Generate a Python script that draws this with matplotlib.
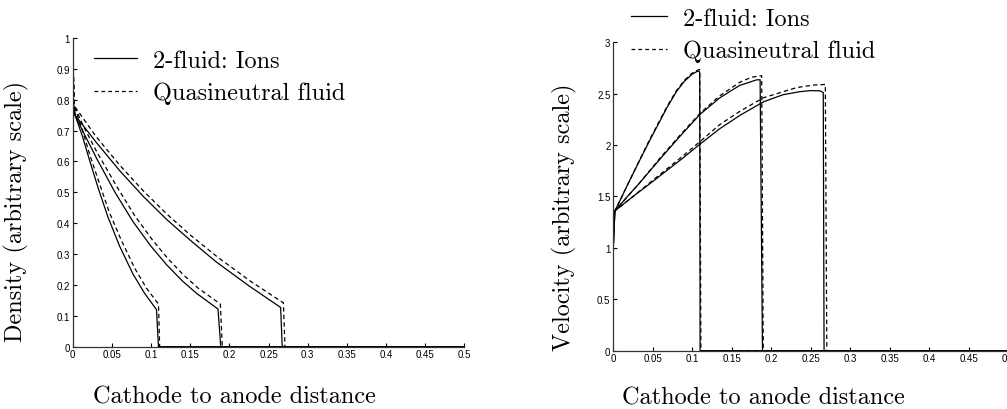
import matplotlib
matplotlib.use("Agg")
import matplotlib.pyplot as plt
from matplotlib.ticker import FuncFormatter, MultipleLocator

# ----------------------------------------------------------------------
#   Data
# ----------------------------------------------------------------------

# density, 2-fluid ions (solid) and quasineutral fluid (dashed)
dens_ion_x = [
    [0, 0.003, 0.012, 0.022, 0.033, 0.045, 0.060, 0.077, 0.092, 0.107, 0.1095, 0.5],
    [0, 0.003, 0.0135, 0.0305, 0.054, 0.077, 0.100, 0.120, 0.140, 0.158, 0.1855, 0.189, 0.5],
    [0, 0.003, 0.030, 0.060, 0.090, 0.120, 0.150, 0.183, 0.225, 0.2655, 0.2675, 0.5],
]
dens_ion_y = [
    [0.80, 0.75, 0.685, 0.60, 0.51, 0.42, 0.325, 0.235, 0.172, 0.120, 0.0, 0.0],
    [0.80, 0.75, 0.695, 0.61, 0.50, 0.405, 0.325, 0.265, 0.213, 0.173, 0.122, 0.0, 0.0],
    [0.80, 0.75, 0.662, 0.57, 0.487, 0.412, 0.345, 0.275, 0.197, 0.127, 0.0, 0.0],
]
dens_qn_x = [
    [0, 0.002, 0.012, 0.022, 0.034, 0.046, 0.062, 0.079, 0.094, 0.1095, 0.111, 0.5],
    [0, 0.002, 0.0135, 0.031, 0.056, 0.079, 0.102, 0.122, 0.142, 0.160, 0.1885, 0.191, 0.5],
    [0, 0.002, 0.030, 0.060, 0.090, 0.120, 0.150, 0.185, 0.227, 0.269, 0.271, 0.5],
]
dens_qn_y = [
    [0.97, 0.78, 0.705, 0.62, 0.53, 0.44, 0.345, 0.255, 0.19, 0.138, 0.0, 0.0],
    [0.97, 0.78, 0.715, 0.63, 0.52, 0.425, 0.345, 0.284, 0.231, 0.19, 0.138, 0.0, 0.0],
    [0.97, 0.78, 0.68, 0.588, 0.505, 0.43, 0.362, 0.29, 0.212, 0.142, 0.0, 0.0],
]

# velocity, 2-fluid ions (solid) and quasineutral fluid (dashed)
vel_ion_x = [
    [0, 0.002, 0.011, 0.0185, 0.034, 0.0465, 0.0677, 0.080, 0.090, 0.100, 0.1057, 0.1077, 0.1095, 0.110, 0.5],
    [0, 0.002, 0.018, 0.032, 0.061, 0.085, 0.110, 0.135, 0.160, 0.1817, 0.186, 0.189, 0.5],
    [0, 0.002, 0.025, 0.0456, 0.0867, 0.110, 0.135, 0.1606, 0.190, 0.215, 0.2366, 0.250, 0.262, 0.266, 0.267, 0.5],
]
vel_ion_y = [
    [1.0, 1.36, 1.50, 1.62, 1.86, 2.05, 2.36, 2.52, 2.62, 2.69, 2.715, 2.72, 2.71, 0.0, 0.0],
    [1.0, 1.36, 1.50, 1.62, 1.88, 2.09, 2.30, 2.46, 2.58, 2.635, 2.635, 0.0, 0.0],
    [1.0, 1.36, 1.50, 1.62, 1.865, 2.01, 2.16, 2.29, 2.42, 2.49, 2.52, 2.53, 2.528, 2.51, 0.0, 0.0],
]
vel_qn_x = [
    [0, 0.002, 0.011, 0.0185, 0.034, 0.0465, 0.0677, 0.080, 0.090, 0.100, 0.1057, 0.1095, 0.111, 0.5],
    [0, 0.002, 0.018, 0.032, 0.061, 0.085, 0.110, 0.135, 0.160, 0.175, 0.188, 0.190, 0.5],
    [0, 0.002, 0.025, 0.0456, 0.0867, 0.110, 0.135, 0.1606, 0.190, 0.2325, 0.255, 0.2686, 0.2705, 0.5],
]
vel_qn_y = [
    [1.2, 1.36, 1.50, 1.62, 1.865, 2.06, 2.37, 2.53, 2.63, 2.70, 2.725, 2.735, 0.0, 0.0],
    [1.2, 1.36, 1.50, 1.62, 1.89, 2.10, 2.31, 2.48, 2.61, 2.66, 2.675, 0.0, 0.0],
    [1.2, 1.36, 1.50, 1.63, 1.885, 2.035, 2.20, 2.33, 2.46, 2.56, 2.585, 2.59, 0.0, 0.0],
]

legend_labels = ['2-fluid: Ions', 'Quasineutral fluid']
x_label = 'Cathode to anode distance'
y_labels = ['Density (arbitrary scale)', 'Velocity (arbitrary scale)']

# ----------------------------------------------------------------------
#   Plot
# ----------------------------------------------------------------------

label_font = 'cmr10'
tick_font = 'Liberation Sans'
label_size = 17.5
dash_style = (3.5, 2.5)


def style_axes(ax, ymax, ystep):
    ax.set_xlim(0, 0.5)
    ax.set_ylim(0, ymax)
    ax.xaxis.set_major_locator(MultipleLocator(0.05))
    ax.yaxis.set_major_locator(MultipleLocator(ystep))
    fmt = FuncFormatter(lambda v, p: '%g' % round(v, 3))
    ax.xaxis.set_major_formatter(fmt)
    ax.yaxis.set_major_formatter(fmt)
    ax.spines['top'].set_visible(False)
    ax.spines['right'].set_visible(False)
    for s in ['left', 'bottom']:
        ax.spines[s].set_linewidth(0.9)
        ax.spines[s].set_color('#333333')
    ax.tick_params(direction='in', length=3, width=0.8, pad=2, labelsize=7)
    for lab in ax.get_xticklabels() + ax.get_yticklabels():
        lab.set_fontfamily(tick_font)


fig = plt.figure(figsize=(10.07, 4.1), dpi=100)

# density panel
ax1 = fig.add_axes([0.0722, 0.152, 0.3889, 0.753])
for xs, ys in zip(dens_ion_x, dens_ion_y):
    ax1.plot(xs, ys, '-', color='black', lw=0.9)
for xs, ys in zip(dens_qn_x, dens_qn_y):
    ax1.plot(xs, ys, '--', color='black', lw=0.9, dashes=dash_style)
style_axes(ax1, 1, 0.1)

# velocity panel
ax2 = fig.add_axes([0.609, 0.1422, 0.392, 0.7522])
for xs, ys in zip(vel_ion_x, vel_ion_y):
    ax2.plot(xs, ys, '-', color='black', lw=0.9)
for xs, ys in zip(vel_qn_x, vel_qn_y):
    ax2.plot(xs, ys, '--', color='black', lw=0.9, dashes=dash_style)
style_axes(ax2, 3, 0.5)

# labels
ax1.set_xlabel(x_label, fontfamily=label_font, fontsize=label_size)
ax1.xaxis.set_label_coords(0.412, -0.125)
ax1.set_ylabel(y_labels[0], fontfamily=label_font, fontsize=label_size)
ax1.yaxis.set_label_coords(-0.112, 0.44)

ax2.set_xlabel(x_label, fontfamily=label_font, fontsize=label_size)
ax2.xaxis.set_label_coords(0.38, -0.115)
ax2.set_ylabel(y_labels[1], fontfamily=label_font, fontsize=label_size)
ax2.yaxis.set_label_coords(-0.092, 0.437)

# legends
h_solid, = ax1.plot([], [], '-', color='black', lw=0.9)
h_dash, = ax1.plot([], [], '--', color='black', lw=0.9, dashes=(3, 2.5))
leg_kw = dict(frameon=False, handletextpad=0.65,
              borderpad=0, borderaxespad=0, labelspacing=0.41,
              prop={'family': label_font, 'size': label_size})
ax1.legend([h_solid, h_dash], legend_labels, loc='upper left',
           bbox_to_anchor=(0.054, 0.962), handlelength=1.77, **leg_kw)
ax2.legend([h_solid, h_dash], legend_labels, loc='upper left',
           bbox_to_anchor=(0.045, 1.112), handlelength=1.5, **leg_kw)

fig.savefig('out.png', dpi=100)
